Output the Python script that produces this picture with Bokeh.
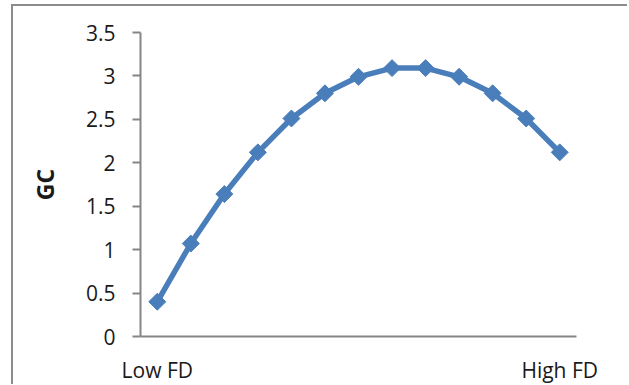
import numpy as np
from bokeh.plotting import figure
from bokeh.models import Range1d, FixedTicker, ColumnDataSource
from bokeh.embed import file_html
from bokeh.resources import INLINE

# ---- data ----
fd_level = list(range(1, 14))
gc_values = [0.40, 1.07, 1.64, 2.12, 2.51, 2.80, 2.99, 3.09, 3.09, 2.99, 2.80, 2.51, 2.12]
x_tick_positions = [1, 13]
x_tick_labels = ["Low FD", "High FD"]
y_ticks = [0, 0.5, 1, 1.5, 2, 2.5, 3, 3.5]
y_tick_labels = ["0", "0.5", "1", "1.5", "2", "2.5", "3", "3.5"]
y_axis_title = "GC"

FONT = "Open Sans"
AXIS_GRAY = "#868686"
SERIES = "#4a7ebb"

src = ColumnDataSource(data=dict(x=fd_level, y=gc_values))

p = figure(width=616, height=380, output_backend="svg", toolbar_location=None,
           x_range=Range1d(0.5, 13.5), y_range=Range1d(0, 3.5),
           min_border_left=127, min_border_top=26, min_border_right=53, min_border_bottom=48)
p.styles = {"border-top": "2px solid #8c8c8c", "border-left": "2px solid #8c8c8c",
            "margin-left": "11px", "margin-top": "4px"}

p.outline_line_color = None
p.xgrid.visible = False
p.ygrid.visible = False
p.background_fill_color = "white"
p.border_fill_color = "white"

p.line("x", "y", source=src, line_color=SERIES, line_width=5.5)
p.scatter("x", "y", source=src, marker="square", angle=np.pi / 4, size=12,
          fill_color=SERIES, line_color=SERIES)

# y axis
ya = p.yaxis[0]
ya.ticker = FixedTicker(ticks=y_ticks)
ya.major_label_overrides = {t: l for t, l in zip(y_ticks, y_tick_labels)}
ya.axis_line_color = AXIS_GRAY
ya.axis_line_width = 2
ya.major_tick_line_color = AXIS_GRAY
ya.major_tick_line_width = 2
ya.major_tick_in = 0
ya.major_tick_out = 8
ya.minor_tick_line_color = None
ya.major_label_standoff = 17
ya.major_label_text_font = FONT
ya.major_label_text_font_size = "21px"
ya.major_label_text_color = "#1a1a1a"
ya.axis_label = y_axis_title
ya.axis_label_text_font = FONT
ya.axis_label_text_font_size = "23px"
ya.axis_label_text_font_style = "bold"
ya.axis_label_text_color = "#1a1a1a"
ya.axis_label_standoff = 22

# x axis
xa = p.xaxis[0]
xa.ticker = FixedTicker(ticks=x_tick_positions)
xa.major_label_overrides = {t: l for t, l in zip(x_tick_positions, x_tick_labels)}
xa.axis_line_color = AXIS_GRAY
xa.axis_line_width = 2
xa.major_tick_line_color = None
xa.major_tick_in = 0
xa.major_tick_out = 0
xa.minor_tick_line_color = None
xa.major_label_standoff = 19
xa.major_label_text_font = FONT
xa.major_label_text_font_size = "21px"
xa.major_label_text_color = "#1a1a1a"

open("out.html", "w").write(file_html(p, INLINE))
